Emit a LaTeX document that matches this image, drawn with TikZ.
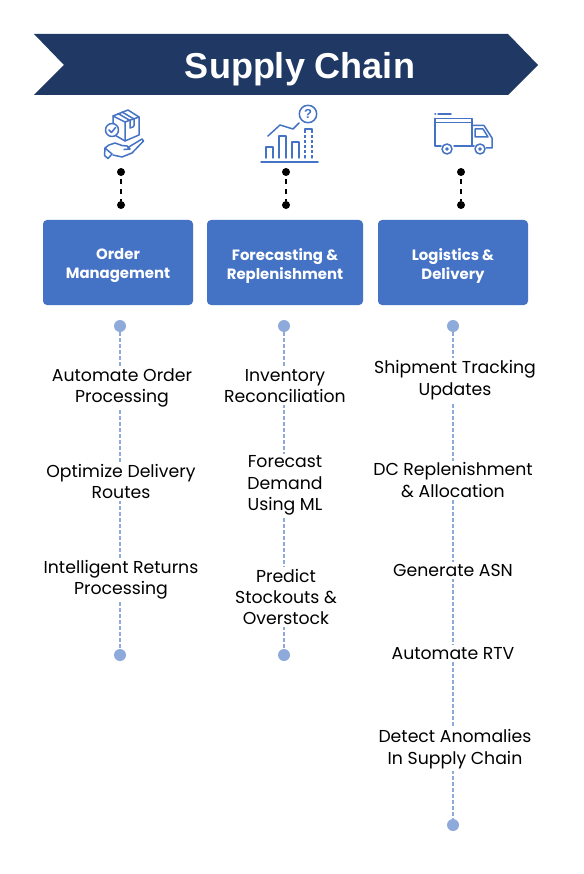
\documentclass[tikz,border=0pt]{standalone}
\usepackage{fontspec}
\setmainfont{Poppins}
\newfontfamily\headfont{Liberation Sans}
\definecolor{navy}{HTML}{1F3864}
\definecolor{boxblue}{HTML}{4472C4}
\definecolor{lineblue}{HTML}{8EAADB}
\tikzset{
 x=1pt,y=-1pt,
 catbox/.style={draw=none,fill=boxblue,rounded corners=4pt,inner sep=0pt,minimum height=85pt},
 catlabel/.style={text=white,align=center,font=\fontsize{14.9}{19}\selectfont\bfseries,inner sep=0pt},
 item/.style={align=center,fill=white,inner sep=2pt,text=black,font=\fontsize{17.3}{21.4}\selectfont},
 dot/.style={circle,fill=lineblue,draw=none,inner sep=0pt,minimum size=12pt},
 bdot/.style={circle,fill=black,draw=none,inner sep=0pt,minimum size=8pt},
 vline/.style={lineblue,line width=1.3pt,dash pattern=on 4pt off 2pt},
 bline/.style={black,line width=2pt,dash pattern=on 5pt off 5pt,dash phase=7pt},
 icon/.style={boxblue,line width=1.5pt,line join=round,line cap=round},
}
\begin{document}
\begin{tikzpicture}
\useasboundingbox (0,0) rectangle (583,874);
\fill[white] (0,0) rectangle (583,874);
\fill[navy] (34,34) -- (508,34) -- (538,65) -- (508,95) -- (34,95) -- (64,65) -- cycle;
\node[name=title,text=white,font=\headfont\fontsize{36}{40}\selectfont\bfseries] at (300,69) {Supply Chain};
% black connectors
\node[bdot] (a1) at (121,172) {}; \node[bdot] (a2) at (121,205) {};
\node[bdot] (b1) at (286,172) {}; \node[bdot] (b2) at (286,205) {};
\node[bdot] (c1) at (461,172) {}; \node[bdot] (c2) at (461,205) {};
\draw[bline] (a1)--(a2); \draw[bline] (b1)--(b2); \draw[bline] (c1)--(c2);
% boxes
\node[catbox,minimum width=150pt] (A) at (118,262.5) {};
\node[catbox,minimum width=156pt] (B) at (285,262.5) {};
\node[catbox,minimum width=150pt] (C) at (453,262.5) {};
\node[catlabel] (Al) at (118,266) {Order\\Management};
\node[catlabel] (Bl) at (285,266) {Forecasting \&\\Replenishment};
\node[catlabel] (Cl) at (453,266) {Logistics \&\\Delivery};
% dots
\node[dot] (p1) at (120,326) {}; \node[dot] (p2) at (120,655) {};
\node[dot] (q1) at (284,326) {}; \node[dot] (q2) at (284,655) {};
\node[dot] (r1) at (453,326) {}; \node[dot] (r2) at (453,825) {};
\draw[vline] (p1)--(p2); \draw[vline] (q1)--(q2); \draw[vline] (r1)--(r2);
% items
\node[item] (i1) at (122,388) {Automate Order\\Processing};
\node[item] (i2) at (121,481.5) {Optimize Delivery\\Routes};
\node[item] (i3) at (121,580) {Intelligent Returns\\Processing};
\node[item] (j1) at (285,386) {Inventory\\Reconciliation};
\node[item] (j2) at (285,485.5) {Forecast\\Demand\\Using ML};
\node[item] (j3) at (286,597) {Predict\\Stockouts \&\\Overstock};
\node[item] (k1) at (455,380) {Shipment Tracking\\Updates};
\node[item] (k2) at (453,480) {DC Replenishment\\\& Allocation};
\node[item] (k3) at (453,570.5) {Generate ASN};
\node[item] (k4) at (453,653.5) {Automate RTV};
\node[item] (k5) at (455,749) {Detect Anomalies\\In Supply Chain};
% icon 1: box on hand
\begin{scope}[icon]
\draw (113,116) -- (128,110) -- (139,117) -- (139,135) -- (125,141) -- (113,134) -- cycle;
\draw (113,116) -- (125,122) -- (139,117) (125,122) -- (125,141);
\draw (118,113.5) -- (130,120.5) (122,112) -- (134,119);
\draw (130,120.5) -- (130,128) -- (133,127) -- (134,125.5) -- (134,119);
\draw[fill=white] (112,130) circle (6.5);
\draw (109,130) -- (111.5,132.5) -- (115.5,127.5);
\draw (105,148) -- (109,145) -- (115,143) -- (122,145.5) -- (127,146) -- (130,149) -- (124,149.5);
\draw (128,147.5) -- (142,139) -- (143.5,141) -- (132,153) -- (122,157) -- (113,155);
\draw (105,148) -- (112,154) -- (108,158.5) -- (104.5,155.5) -- (105,148);
\end{scope}
% icon 2: chart
\begin{scope}[icon]
\draw (261,162) -- (318,162);
\draw (266,158) -- (266,147) -- (273,147) -- (273,158);
\draw (279,158) -- (279,136) -- (286,136) -- (286,158);
\draw (292,158) -- (292,142) -- (299,142) -- (299,158);
\draw (268,136) -- (280,125) -- (293,129) -- (299,123);
\draw (305,158) -- (305,129) -- (312,129) -- (312,158);
\draw[white,line width=1.6pt,line cap=butt,dash pattern=on 2pt off 3pt] (305,133) -- (305,158) (312,133) -- (312,158);
\draw (308,114) circle (8.7);
\node[text=boxblue,font=\headfont\fontsize{13}{13}\selectfont\bfseries,inner sep=0pt,name=qm] at (308,114) {?};
\end{scope}
% icon 3: truck
\begin{scope}[icon]
\draw (435,114) -- (435.5,114) (438,114) -- (451,114);
\draw (435,118.5) -- (472,118.5) -- (472,146) -- (454,146);
\draw (435,118.5) -- (435,146) -- (441,146);
\draw (435,122.5) -- (472,122.5);
\draw (472,125.5) -- (484,125.5) -- (492,138) -- (492,148) -- (486,148);
\draw (475,129) -- (483,129) -- (488,137) -- (475,137) -- cycle;
\draw (472,146) -- (474,146);
\draw (447,149) circle (5); \draw (447,149) circle (1);
\draw (480,149) circle (5); \draw (480,149) circle (1);
\end{scope}
\end{tikzpicture}
\end{document}
